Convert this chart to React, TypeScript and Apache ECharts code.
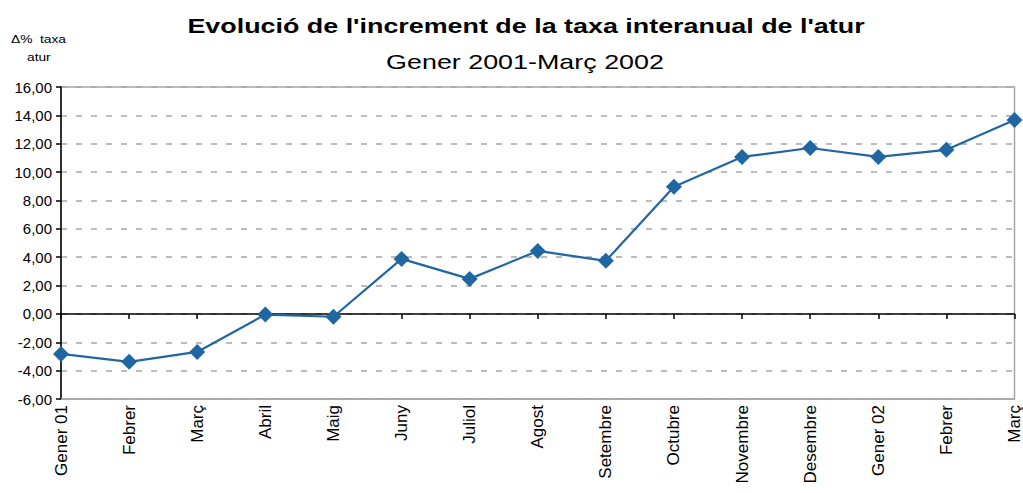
import React, { useEffect, useRef } from "react";
import * as echarts from "echarts";

const categories = [
  "Gener 01", "Febrer", "Març", "Abril", "Maig", "Juny", "Juliol", "Agost",
  "Setembre", "Octubre", "Novembre", "Desembre", "Gener 02", "Febrer", "Març",
];
const values = [
  -2.82, -3.38, -2.68, -0.05, -0.2, 3.88, 2.47, 4.44, 3.74, 8.96, 11.07, 11.7, 11.07, 11.57, 13.68,
];
const yMin = -6;
const yMax = 16;
const yStep = 2;
const titleText = "Evolució de l'increment de la taxa interanual de l'atur";
const subtitleText = "Gener 2001-Març 2002";
const yNameLine1 = "Δ%  taxa";
const yNameLine2 = "atur";

export default function App() {
  const ref = useRef<HTMLDivElement>(null);
  useEffect(() => {
    if (!ref.current) return;
    const chart = echarts.init(ref.current, null, { renderer: "svg" });
    const font = "'Liberation Sans', Arial, sans-serif";
    chart.setOption({
      animation: false,
      backgroundColor: "#ffffff",
      graphic: [
        {
          type: "text",
          x: 526,
          y: 26,
          scaleX: 1.28,
          style: {
            text: titleText,
            fontFamily: font,
            fontSize: 21,
            fontWeight: "bold",
            fill: "#000",
            align: "center",
            verticalAlign: "middle",
          },
        },
        {
          type: "text",
          x: 525,
          y: 62,
          scaleX: 1.28,
          style: {
            text: subtitleText,
            fontFamily: font,
            fontSize: 21,
            fill: "#000",
            align: "center",
            verticalAlign: "middle",
          },
        },
        {
          type: "text",
          x: 11,
          y: 39,
          scaleX: 1.25,
          style: { text: yNameLine1, fontFamily: font, fontSize: 11, fill: "#000", verticalAlign: "middle" },
        },
        {
          type: "text",
          x: 27,
          y: 57,
          scaleX: 1.25,
          style: { text: yNameLine2, fontFamily: font, fontSize: 11, fill: "#000", verticalAlign: "middle" },
        },
      ],
      grid: {
        left: 61,
        right: 3,
        top: 87,
        bottom: 94,
        show: true,
        borderColor: "#a6a6a6",
        borderWidth: 1.5,
        containLabel: false,
      },
      xAxis: [
        {
          type: "category",
          data: categories,
          boundaryGap: false,
          position: "bottom",
          axisLine: { onZero: false, lineStyle: { color: "#a6a6a6", width: 1.5 } },
          axisTick: { show: false },
          axisLabel: {
            interval: 0,
            rotate: 90,
            margin: 6,
            fontFamily: font,
            fontSize: 17,
            color: "#000",
          },
          splitLine: { show: false },
        },
        {
          type: "category",
          data: categories,
          boundaryGap: false,
          position: "top",
          axisLine: { onZero: true, lineStyle: { color: "#000", width: 1.5 } },
          axisTick: { show: true, inside: true, length: 5, interval: 0, lineStyle: { color: "#000", width: 1.5 } },
          axisLabel: { show: false },
          splitLine: { show: false },
        },
      ],
      yAxis: {
        type: "value",
        min: yMin,
        max: yMax,
        interval: yStep,
        axisLine: { show: true, onZero: false, lineStyle: { color: "#000", width: 1.5 } },
        axisTick: { show: true, length: 5, lineStyle: { color: "#000", width: 1.5 } },
        axisLabel: {
          margin: 9,
          fontFamily: font,
          fontSize: 15,
          color: "#000",
          formatter: (v: number) => v.toFixed(2).replace(".", ","),
        },
        splitLine: {
          show: true,
          lineStyle: { color: "#a6a6a6", type: [6, 9], width: 1.5 },
        },
      },
      series: [
        {
          type: "line",
          data: values,
          xAxisIndex: 0,
          symbol: "diamond",
          symbolSize: 16,
          lineStyle: { color: "#1f66a3", width: 2.2 },
          itemStyle: { color: "#1f66a3" },
          z: 5,
        },
      ],
    });
    return () => chart.dispose();
  }, []);
  return (
    <div
      ref={ref}
      style={{ position: "fixed", left: 0, top: 0, width: 1023, height: 493 }}
    />
  );
}
